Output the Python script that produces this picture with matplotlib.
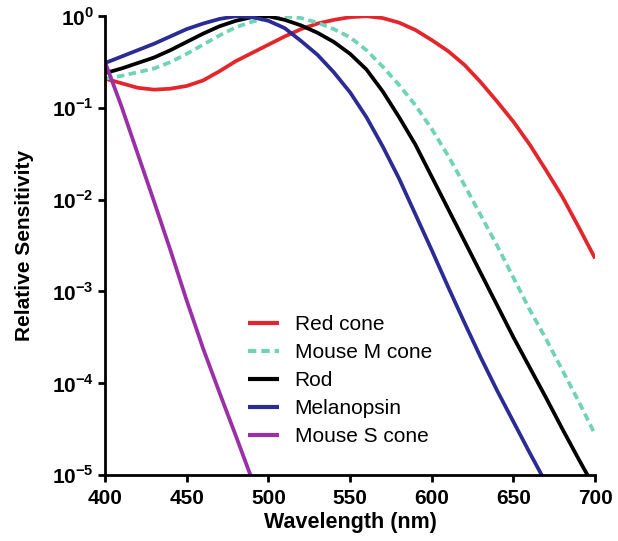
import numpy as np
import matplotlib
matplotlib.use("Agg")
import matplotlib.pyplot as plt

plt.rcParams['font.family'] = ['Liberation Sans', 'DejaVu Sans']
plt.rcParams['mathtext.fontset'] = 'custom'
plt.rcParams['mathtext.rm'] = 'Liberation Sans:bold'
plt.rcParams['mathtext.bf'] = 'Liberation Sans:bold'

# ------------ DATA (log10 relative sensitivity) ------------

wavelength = list(range(400, 701, 10))

red_cone = [-0.68, -0.73, -0.78, -0.80, -0.79, -0.76, -0.70, -0.60, -0.49, -0.40,
            -0.31, -0.22, -0.14, -0.08, -0.04, -0.01, 0.00, -0.02, -0.07, -0.15,
            -0.26, -0.38, -0.53, -0.72, -0.93, -1.15, -1.40, -1.68, -1.97, -2.30,
            -2.64]

mouse_m_cone = [-0.68, -0.65, -0.61, -0.57, -0.50, -0.41, -0.31, -0.21, -0.12, -0.06,
                -0.02, 0.00, -0.02, -0.07, -0.14, -0.23, -0.37, -0.55, -0.75, -0.97,
                -1.23, -1.52, -1.84, -2.17, -2.50, -2.85, -3.20, -3.52, -3.86, -4.20,
                -4.56]

rod = [-0.62, -0.57, -0.51, -0.45, -0.37, -0.28, -0.19, -0.11, -0.05, -0.01,
       0.00, -0.04, -0.10, -0.18, -0.28, -0.41, -0.58, -0.82, -1.10, -1.40,
       -1.75, -2.10, -2.45, -2.80, -3.15, -3.50, -3.83, -4.16, -4.50, -4.83,
       -5.15]

melanopsin = [-0.51, -0.44, -0.37, -0.30, -0.22, -0.14, -0.08, -0.03, 0.00, -0.01,
              -0.05, -0.13, -0.27, -0.42, -0.61, -0.83, -1.10, -1.42, -1.77, -2.16,
              -2.55, -2.95, -3.34, -3.72, -4.08, -4.42, -4.76, -5.09, np.nan, np.nan,
              np.nan]

mouse_s_cone = [-0.50, -0.98, -1.50, -2.02, -2.55, -3.10, -3.62, -4.10, -4.57, -5.05] \
               + [np.nan] * 21

series = [
    ("Red cone",     red_cone,     "#e3262b", "-"),
    ("Mouse M cone", mouse_m_cone, "#6fd3b6", (0, (2.0, 1.2))),
    ("Rod",          rod,          "#000000", "-"),
    ("Melanopsin",   melanopsin,   "#2a2b94", "-"),
    ("Mouse S cone", mouse_s_cone, "#9a2fa8", "-"),
]

x_ticks = [400, 450, 500, 550, 600, 650, 700]
y_ticks = [1e-5, 1e-4, 1e-3, 1e-2, 1e-1, 1e0]
y_labels = [r"$10^{-5}$", r"$10^{-4}$", r"$10^{-3}$", r"$10^{-2}$", r"$10^{-1}$", r"$10^{0}$"]

# ------------ PLOTTING ------------

fig = plt.figure(figsize=(6.18, 5.41), dpi=100)
ax = fig.add_axes([0.170, 0.122, 0.793, 0.848])

for name, logs, color, style in series:
    ax.plot(wavelength, 10 ** np.array(logs, dtype=float), color=color,
            linestyle=style, linewidth=2.7, label=name, solid_capstyle='butt')

ax.set_yscale('log')
ax.set_xlim(400, 700)
ax.set_ylim(1e-5, 1e0)

ax.set_xticks(x_ticks)
ax.set_xticklabels([str(t) for t in x_ticks], fontsize=15, fontweight='bold')
ax.set_yticks(y_ticks)
ax.set_yticklabels(y_labels, fontsize=15)
ax.yaxis.set_minor_locator(matplotlib.ticker.NullLocator())

for side in ('top', 'right'):
    ax.spines[side].set_visible(False)
for side in ('left', 'bottom'):
    ax.spines[side].set_linewidth(2.0)
ax.tick_params(direction='out', length=5, width=2.0)
ax.tick_params(axis='x', pad=5)
ax.tick_params(axis='y', pad=3)

ax.set_xlabel("Wavelength (nm)", fontsize=15.5, fontweight='bold', labelpad=3)
ax.set_ylabel("Relative Sensitivity", fontsize=15, fontweight='bold', labelpad=13)

leg = ax.legend(loc='lower left', bbox_to_anchor=(0.27, 0.04), frameon=False,
                fontsize=15, handlelength=1.5, handletextpad=0.75, labelspacing=0.43,
                borderpad=0)
for line in leg.get_lines():
    line.set_linewidth(3)

fig.savefig("out.png", dpi=100)
